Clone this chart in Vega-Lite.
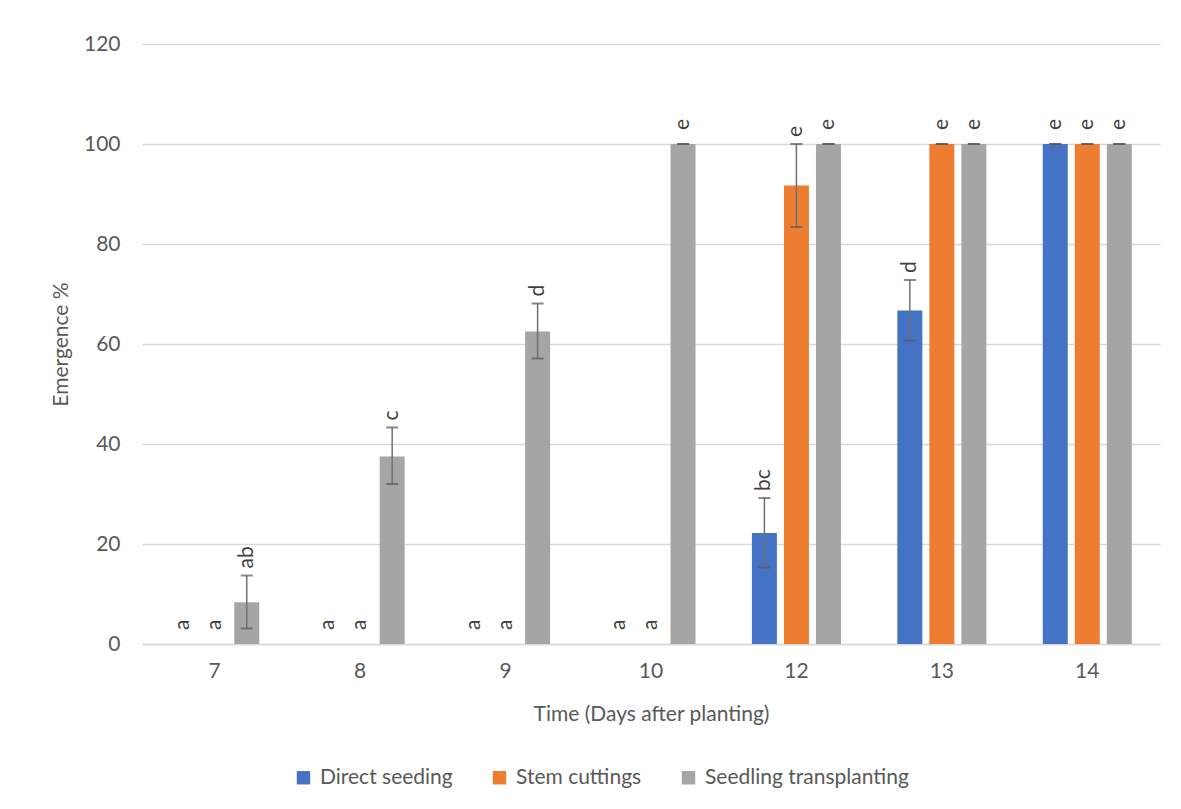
{
  "$schema": "https://vega.github.io/schema/vega-lite/v6.json",
  "autosize": {"type": "none"},
  "padding": {"left": 142, "top": 44, "right": 21, "bottom": 165},
  "width": 1018,
  "height": 600,
  "background": "white",
  "config": {
    "font": "Lato",
    "view": {"stroke": null},
    "axis": {"labelFont": "Lato", "titleFont": "Lato", "labelColor": "#595959", "titleColor": "#595959", "labelFontSize": 21, "titleFontSize": 21, "titleFontWeight": "normal"},
    "legend": {"labelFont": "Lato", "labelFontSize": 21, "labelColor": "#595959", "labelLimit": 0}
  },
  "data": {
    "values": [
      {"day": "7", "method": "Direct seeding", "value": 0, "lo": 0, "hi": 0, "label": "a"},
      {"day": "7", "method": "Stem cuttings", "value": 0, "lo": 0, "hi": 0, "label": "a"},
      {"day": "7", "method": "Seedling transplanting", "value": 8.33, "lo": 3.1, "hi": 13.7, "label": "ab"},
      {"day": "8", "method": "Direct seeding", "value": 0, "lo": 0, "hi": 0, "label": "a"},
      {"day": "8", "method": "Stem cuttings", "value": 0, "lo": 0, "hi": 0, "label": "a"},
      {"day": "8", "method": "Seedling transplanting", "value": 37.5, "lo": 32.0, "hi": 43.3, "label": "c"},
      {"day": "9", "method": "Direct seeding", "value": 0, "lo": 0, "hi": 0, "label": "a"},
      {"day": "9", "method": "Stem cuttings", "value": 0, "lo": 0, "hi": 0, "label": "a"},
      {"day": "9", "method": "Seedling transplanting", "value": 62.5, "lo": 57.1, "hi": 68.1, "label": "d"},
      {"day": "10", "method": "Direct seeding", "value": 0, "lo": 0, "hi": 0, "label": "a"},
      {"day": "10", "method": "Stem cuttings", "value": 0, "lo": 0, "hi": 0, "label": "a"},
      {"day": "10", "method": "Seedling transplanting", "value": 100, "lo": 100, "hi": 100, "label": "e"},
      {"day": "12", "method": "Direct seeding", "value": 22.2, "lo": 15.3, "hi": 29.2, "label": "bc"},
      {"day": "12", "method": "Stem cuttings", "value": 91.7, "lo": 83.4, "hi": 100, "label": "e"},
      {"day": "12", "method": "Seedling transplanting", "value": 100, "lo": 100, "hi": 100, "label": "e"},
      {"day": "13", "method": "Direct seeding", "value": 66.7, "lo": 60.7, "hi": 72.8, "label": "d"},
      {"day": "13", "method": "Stem cuttings", "value": 100, "lo": 100, "hi": 100, "label": "e"},
      {"day": "13", "method": "Seedling transplanting", "value": 100, "lo": 100, "hi": 100, "label": "e"},
      {"day": "14", "method": "Direct seeding", "value": 100, "lo": 100, "hi": 100, "label": "e"},
      {"day": "14", "method": "Stem cuttings", "value": 100, "lo": 100, "hi": 100, "label": "e"},
      {"day": "14", "method": "Seedling transplanting", "value": 100, "lo": 100, "hi": 100, "label": "e"}
    ]
  },
  "encoding": {
    "x": {
      "field": "day", "type": "nominal",
      "sort": ["7", "8", "9", "10", "12", "13", "14"],
      "scale": {"paddingInner": 0, "paddingOuter": 0},
      "axis": {"title": "Time (Days after planting)", "labelAngle": 0, "ticks": false, "labelPadding": 16, "titlePadding": 22, "domainColor": "#d9d9d9", "domainWidth": 1.5, "grid": false}
    },
    "xOffset": {
      "field": "method", "type": "nominal",
      "sort": ["Direct seeding", "Stem cuttings", "Seedling transplanting"],
      "scale": {"paddingInner": 0.22, "paddingOuter": 0.88}
    }
  },
  "layer": [
    {
      "mark": {"type": "bar"},
      "encoding": {
        "y": {
          "field": "value", "type": "quantitative",
          "scale": {"domain": [0, 120], "nice": false},
          "axis": {"title": "Emergence %", "values": [0, 20, 40, 60, 80, 100, 120], "domain": false, "ticks": false, "labelPadding": 22, "titlePadding": 12, "gridColor": "#d9d9d9", "gridWidth": 1.5}
        },
        "color": {
          "field": "method", "type": "nominal",
          "sort": ["Direct seeding", "Stem cuttings", "Seedling transplanting"],
          "scale": {"domain": ["Direct seeding", "Stem cuttings", "Seedling transplanting"], "range": ["#4472C4", "#ED7D31", "#A5A5A5"]},
          "legend": {"title": null, "orient": "none", "direction": "horizontal", "legendX": 151, "legendY": 723, "symbolType": "square", "symbolSize": 180, "symbolStrokeWidth": 0, "labelOffset": 6, "columnPadding": 36}
        }
      }
    },
    {
      "transform": [{"filter": "datum.value > 0"}],
      "mark": {"type": "rule", "color": "#707070", "strokeWidth": 1.5},
      "encoding": {
        "y": {"field": "lo", "type": "quantitative"},
        "y2": {"field": "hi"}
      }
    },
    {
      "transform": [{"filter": "datum.value > 0"}],
      "mark": {"type": "tick", "color": "#595959", "size": 12, "thickness": 2},
      "encoding": {"y": {"field": "lo", "type": "quantitative"}}
    },
    {
      "transform": [{"filter": "datum.value > 0"}],
      "mark": {"type": "tick", "color": "#595959", "size": 12, "thickness": 2},
      "encoding": {"y": {"field": "hi", "type": "quantitative"}}
    },
    {
      "transform": [{"filter": "datum.hi > datum.value"}],
      "mark": {"type": "text", "angle": 270, "align": "left", "baseline": "middle", "dx": 7, "fontSize": 21, "fill": "#404040", "font": "Lato"},
      "encoding": {
        "y": {"field": "hi", "type": "quantitative"},
        "text": {"field": "label"}
      }
    },
    {
      "transform": [{"filter": "datum.hi <= datum.value"}],
      "mark": {"type": "text", "angle": 270, "align": "left", "baseline": "middle", "dx": 14, "fontSize": 21, "fill": "#404040", "font": "Lato"},
      "encoding": {
        "y": {"field": "hi", "type": "quantitative"},
        "text": {"field": "label"}
      }
    }
  ]
}
